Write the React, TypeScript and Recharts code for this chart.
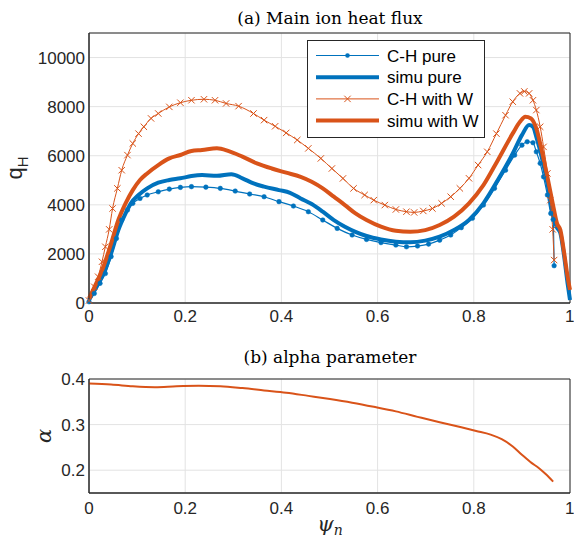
import React from 'react';
import { LineChart, Line, XAxis, YAxis, CartesianGrid, Legend, ReferenceArea } from 'recharts';

const BLUE = '#0072BD';
const ORANGE = '#D95319';
const AXIS = '#262626';
const GRID = '#e3e3e3';
const SANS = '"Liberation Sans", Arial, sans-serif';
const SERIF = '"DejaVu Serif", serif';

// (a) main ion heat flux
const chPurePsi = [0, 0.011, 0.023, 0.034, 0.046, 0.057, 0.068, 0.08, 0.091, 0.106, 0.121, 0.144, 0.167, 0.19, 0.213, 0.243, 0.273, 0.304, 0.334, 0.364, 0.395, 0.425, 0.456, 0.486, 0.516, 0.547, 0.577, 0.607, 0.638, 0.66, 0.683, 0.706, 0.729, 0.752, 0.774, 0.797, 0.82, 0.843, 0.866, 0.885, 0.9, 0.911, 0.923, 0.93, 0.938, 0.945, 0.953, 0.96, 0.965, 0.967];
const chPureQ = [50, 390, 800, 1200, 1890, 2630, 3380, 3790, 4060, 4260, 4400, 4530, 4640, 4710, 4740, 4720, 4670, 4560, 4440, 4330, 4130, 3950, 3720, 3380, 3040, 2770, 2590, 2460, 2360, 2290, 2320, 2400, 2560, 2770, 3070, 3450, 3990, 4670, 5410, 6025, 6430, 6570, 6530, 6160, 5690, 5140, 4400, 3650, 3400, 1520];

const simuPurePsi = [0, 0.015, 0.03, 0.046, 0.061, 0.076, 0.087, 0.103, 0.121, 0.144, 0.167, 0.19, 0.213, 0.235, 0.266, 0.296, 0.319, 0.342, 0.364, 0.395, 0.418, 0.44, 0.463, 0.486, 0.509, 0.532, 0.554, 0.577, 0.607, 0.638, 0.668, 0.699, 0.729, 0.759, 0.79, 0.82, 0.85, 0.881, 0.9, 0.915, 0.923, 0.93, 0.941, 0.953, 0.964, 0.972, 0.98, 0.987, 0.995, 1.0];
const simuPureQ = [120, 660, 1200, 2020, 2970, 3650, 4060, 4400, 4670, 4900, 5010, 5080, 5170, 5210, 5180, 5250, 5080, 4870, 4740, 4600, 4490, 4260, 4030, 3720, 3380, 3110, 2900, 2730, 2590, 2500, 2470, 2540, 2700, 2970, 3380, 4060, 5010, 6090, 6840, 7250, 7180, 6770, 5960, 4870, 3650, 3110, 2840, 2020, 800, 120];

const chWPsi = [0, 0.011, 0.019, 0.027, 0.034, 0.042, 0.049, 0.059, 0.068, 0.08, 0.091, 0.103, 0.114, 0.129, 0.144, 0.167, 0.19, 0.213, 0.239, 0.262, 0.285, 0.311, 0.342, 0.364, 0.387, 0.41, 0.433, 0.456, 0.482, 0.505, 0.528, 0.55, 0.573, 0.592, 0.615, 0.638, 0.66, 0.676, 0.695, 0.714, 0.733, 0.752, 0.771, 0.79, 0.809, 0.828, 0.847, 0.866, 0.881, 0.896, 0.905, 0.915, 0.923, 0.93, 0.938, 0.945, 0.953, 0.959, 0.964, 0.967];
const chWQ = [100, 660, 1070, 1680, 2290, 3000, 3850, 4670, 5410, 6025, 6500, 6900, 7180, 7520, 7720, 7990, 8160, 8260, 8300, 8260, 8130, 8020, 7720, 7450, 7200, 6930, 6640, 6300, 5890, 5480, 5075, 4670, 4400, 4190, 3990, 3810, 3720, 3690, 3750, 3850, 4060, 4330, 4670, 5080, 5620, 6160, 6900, 7650, 8200, 8540, 8620, 8540, 8260, 7860, 7180, 6360, 5280, 4190, 3000, 1750];

const simuWPsi = [0, 0.015, 0.03, 0.046, 0.061, 0.076, 0.091, 0.106, 0.121, 0.144, 0.167, 0.19, 0.213, 0.235, 0.266, 0.289, 0.319, 0.349, 0.38, 0.41, 0.44, 0.463, 0.486, 0.509, 0.532, 0.554, 0.577, 0.607, 0.638, 0.668, 0.699, 0.729, 0.759, 0.79, 0.82, 0.85, 0.881, 0.896, 0.907, 0.919, 0.93, 0.941, 0.953, 0.964, 0.973, 0.98, 0.988, 0.995, 1.0];
const simuWQ = [190, 800, 1480, 2430, 3380, 4060, 4600, 5010, 5280, 5620, 5890, 6030, 6190, 6230, 6300, 6200, 5960, 5690, 5480, 5310, 5140, 4940, 4670, 4330, 3990, 3650, 3380, 3110, 2940, 2900, 2970, 3180, 3520, 4060, 4800, 5820, 6910, 7380, 7590, 7520, 7110, 6230, 5140, 4060, 3240, 2970, 2020, 1070, 530];

// (b) alpha parameter
const alphaPsi = [0, 0.046, 0.091, 0.137, 0.182, 0.228, 0.273, 0.319, 0.364, 0.41, 0.456, 0.501, 0.547, 0.592, 0.638, 0.683, 0.729, 0.774, 0.805, 0.835, 0.858, 0.881, 0.9, 0.92, 0.935, 0.95, 0.965];
const alphaVal = [0.39, 0.388, 0.384, 0.382, 0.384, 0.385, 0.384, 0.38, 0.375, 0.37, 0.363, 0.356, 0.348, 0.339, 0.329, 0.317, 0.305, 0.294, 0.286, 0.278, 0.268, 0.252, 0.234, 0.216, 0.205, 0.191, 0.175];

const xTicks = [0, 0.2, 0.4, 0.6, 0.8, 1];
const qTicks = [0, 2000, 4000, 6000, 8000, 10000];
const alphaTicks = [0.2, 0.3, 0.4];

const zip = (xs: number[], ys: number[]) => xs.map((x, i) => ({ psi: x, v: ys[i] }));

const chPure = zip(chPurePsi, chPureQ);
const simuPure = zip(simuPurePsi, simuPureQ);
const chW = zip(chWPsi, chWQ);
const simuW = zip(simuWPsi, simuWQ);
const alpha = zip(alphaPsi, alphaVal);

const tickStyle = { fontSize: 17, fill: AXIS, fontFamily: SANS };

const legendItems = [
  { name: 'C-H pure', color: BLUE, width: 1.2, marker: 'dot' },
  { name: 'simu pure', color: BLUE, width: 4, marker: '' },
  { name: 'C-H with W', color: ORANGE, width: 1, marker: 'x' },
  { name: 'simu with W', color: ORANGE, width: 4, marker: '' },
];

function XMark(props: any) {
  const { cx, cy, index } = props;
  if (cx == null || cy == null) return <g key={`xm-${index}`} />;
  const s = 3.2;
  return (
    <path
      key={`xm-${index}`}
      d={`M${cx - s},${cy - s}L${cx + s},${cy + s}M${cx + s},${cy - s}L${cx - s},${cy + s}`}
      stroke={ORANGE}
      strokeWidth={1}
      fill="none"
    />
  );
}

function LegendBox() {
  return (
    <svg width={178} height={98} style={{ display: 'block' }}>
      <rect x={0.5} y={0.5} width={177} height={97} fill="#fff" stroke={AXIS} strokeWidth={1} />
      {legendItems.map((it, i) => {
        const y = 15.5 + i * 21.7;
        return (
          <g key={it.name}>
            <line x1={9} x2={72} y1={y} y2={y} stroke={it.color} strokeWidth={it.width} />
            {it.marker === 'dot' && <circle cx={40.5} cy={y} r={2.3} fill={it.color} />}
            {it.marker === 'x' && (
              <path d={`M37.3,${y - 3.2}L43.7,${y + 3.2}M43.7,${y - 3.2}L37.3,${y + 3.2}`} stroke={it.color} strokeWidth={1} />
            )}
            <text x={80} y={y} dy="0.36em" fontSize={17} fill="#000" fontFamily={SANS}>
              {it.name}
            </text>
          </g>
        );
      })}
    </svg>
  );
}

export default function App() {
  return (
    <div style={{ position: 'absolute', left: 0, top: 0, width: 574, height: 543, background: '#fff' }}>
      <div style={{ position: 'absolute', left: 0, top: 0 }}>
        <LineChart width={574} height={330} margin={{ top: 33, right: 4, left: 29, bottom: 2 }}>
          <CartesianGrid stroke={GRID} strokeWidth={1} />
          <XAxis
            type="number"
            dataKey="psi"
            domain={[0, 1]}
            ticks={xTicks}
            height={25}
            tick={tickStyle}
            tickLine={false}
            tickSize={0}
            tickMargin={7}
            axisLine={{ stroke: AXIS }}
            allowDuplicatedCategory={false}
          />
          <YAxis
            type="number"
            domain={[0, 11000]}
            ticks={qTicks}
            width={60}
            tick={tickStyle}
            tickLine={false}
            tickSize={0}
            tickMargin={4}
            axisLine={{ stroke: AXIS }}
          />
          <Line data={chPure} dataKey="v" type="monotone" stroke={BLUE} strokeWidth={1.2}
            dot={{ r: 2.3, fill: BLUE, stroke: BLUE, strokeWidth: 0.5 }} isAnimationActive={false} name="C-H pure" />
          <Line data={simuPure} dataKey="v" type="monotone" stroke={BLUE} strokeWidth={4}
            dot={false} isAnimationActive={false} name="simu pure" />
          <Line data={chW} dataKey="v" type="monotone" stroke={ORANGE} strokeWidth={1}
            dot={XMark} isAnimationActive={false} name="C-H with W" />
          <Line data={simuW} dataKey="v" type="monotone" stroke={ORANGE} strokeWidth={4}
            dot={false} isAnimationActive={false} name="simu with W" />
          <ReferenceArea x1={0} x2={1} y1={0} y2={11000} fill="none" stroke={AXIS} strokeWidth={1} />
          <Legend
            layout="vertical"
            align="center"
            verticalAlign="middle"
            content={() => <LegendBox />}
            wrapperStyle={{ left: 307, top: 40, width: 178, height: 98 }}
          />
        </LineChart>
      </div>
      <div style={{ position: 'absolute', left: 0, top: 340 }}>
        <LineChart width={574} height={203} margin={{ top: 39, right: 4, left: 29, bottom: 20 }}>
          <CartesianGrid stroke={GRID} strokeWidth={1} />
          <XAxis
            type="number"
            dataKey="psi"
            domain={[0, 1]}
            ticks={xTicks}
            height={30}
            tick={tickStyle}
            tickLine={false}
            tickSize={0}
            tickMargin={9}
            axisLine={{ stroke: AXIS }}
          />
          <YAxis
            type="number"
            domain={[0.15, 0.4]}
            ticks={alphaTicks}
            width={60}
            tick={tickStyle}
            tickLine={false}
            tickSize={0}
            tickMargin={4}
            axisLine={{ stroke: AXIS }}
          />
          <Line data={alpha} dataKey="v" type="monotone" stroke={ORANGE} strokeWidth={2}
            dot={false} isAnimationActive={false} name="alpha" />
          <ReferenceArea x1={0} x2={1} y1={0.15} y2={0.4} fill="none" stroke={AXIS} strokeWidth={1} />
        </LineChart>
      </div>
      <svg width={574} height={543} style={{ position: 'absolute', left: 0, top: 0, pointerEvents: 'none' }}>
        <text x={330} y={24} textAnchor="middle" fontSize={17} fontFamily={SERIF} fill="#000">
          (a) Main ion heat flux
        </text>
        <text x={330} y={363} textAnchor="middle" fontSize={17} fontFamily={SERIF} fill="#000">
          (b) alpha parameter
        </text>
        <text transform="translate(22,168) rotate(-90)" textAnchor="middle" fontSize={22} fontFamily={SANS} fill={AXIS}>
          q<tspan fontSize={15} dy={6}>H</tspan>
        </text>
        <text transform="translate(51,436) rotate(-90)" textAnchor="middle" fontSize={21} fontFamily={SERIF} fontStyle="italic" fill={AXIS}>
          α
        </text>
        <text x={330} y={531} textAnchor="middle" fontSize={21} fontFamily={SERIF} fontStyle="italic" fill={AXIS}>
          ψ<tspan fontSize={14} dy={4}>n</tspan>
        </text>
      </svg>
    </div>
  );
}
